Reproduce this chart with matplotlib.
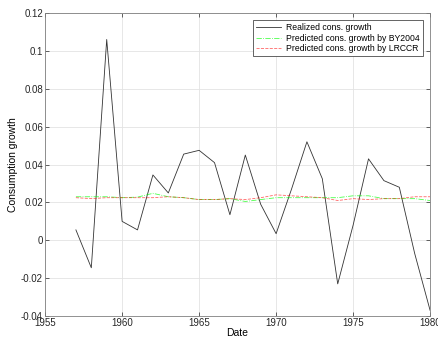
import matplotlib.pyplot as plt
import numpy as np

plt.rcParams['font.family'] = ['Liberation Sans', 'DejaVu Sans']

years = np.arange(1957, 1981)

realized = [0.0055, -0.0145, 0.106, 0.010, 0.0055, 0.0345, 0.025, 0.0455,
            0.0475, 0.041, 0.0135, 0.045, 0.019, 0.0035, 0.027, 0.052,
            0.0325, -0.023, 0.008, 0.043, 0.0315, 0.028, -0.007, -0.037]

pred_by2004 = [0.023, 0.023, 0.023, 0.0225, 0.0228, 0.0248, 0.023, 0.0225,
               0.0215, 0.0215, 0.022, 0.0205, 0.0215, 0.0225, 0.0225, 0.0225,
               0.0225, 0.0225, 0.0235, 0.0235, 0.022, 0.022, 0.022, 0.021]

pred_lrccr = [0.0225, 0.022, 0.0225, 0.0225, 0.0225, 0.0225, 0.023, 0.0225,
              0.0215, 0.0215, 0.022, 0.0215, 0.0225, 0.024, 0.0235, 0.023,
              0.0225, 0.021, 0.022, 0.0215, 0.022, 0.022, 0.023, 0.023]

fig = plt.figure(figsize=(4.38, 3.41), dpi=100)
ax = fig.add_axes([0.103, 0.073, 0.879, 0.889])

ax.plot(years, realized, color='#333333', lw=0.6, label='Realized cons. growth')
ax.plot(years, pred_by2004, color='#00ff00', lw=0.6, ls='-.', alpha=0.7,
        label='Predicted cons. growth by BY2004')
ax.plot(years, pred_lrccr, color='#ff0000', lw=0.6, ls='--', alpha=0.6,
        label='Predicted cons. growth by LRCCR')

ax.set_xlim(1955, 1980)
ax.set_ylim(-0.04, 0.12)
ax.set_xticks(np.arange(1955, 1981, 5))
ax.set_yticks(np.arange(-0.04, 0.121, 0.02))
ax.set_yticklabels(['-0.04', '-0.02', '0', '0.02', '0.04', '0.06', '0.08', '0.1', '0.12'])
ax.grid(True, color='#e3e3e3', lw=0.6)
ax.set_axisbelow(True)
ax.tick_params(direction='in', length=3, width=0.5, colors='#262626', labelsize=7,
               top=True, right=True, pad=1.5)
for s in ax.spines.values():
    s.set_color('#808080')
    s.set_linewidth(0.6)

ax.set_xlabel('Date', fontsize=7.5, labelpad=0)
ax.set_ylabel('Consumption growth', fontsize=7.5, labelpad=2)

leg = ax.legend(loc='upper right', fontsize=6.2, frameon=True, fancybox=False,
                borderpad=0.35, labelspacing=0.2, handlelength=2.9,
                handletextpad=0.6, borderaxespad=0.8)
leg.get_frame().set_edgecolor('#262626')
leg.get_frame().set_linewidth(0.5)
leg.get_frame().set_alpha(1)

plt.savefig('out.png', dpi=100)
